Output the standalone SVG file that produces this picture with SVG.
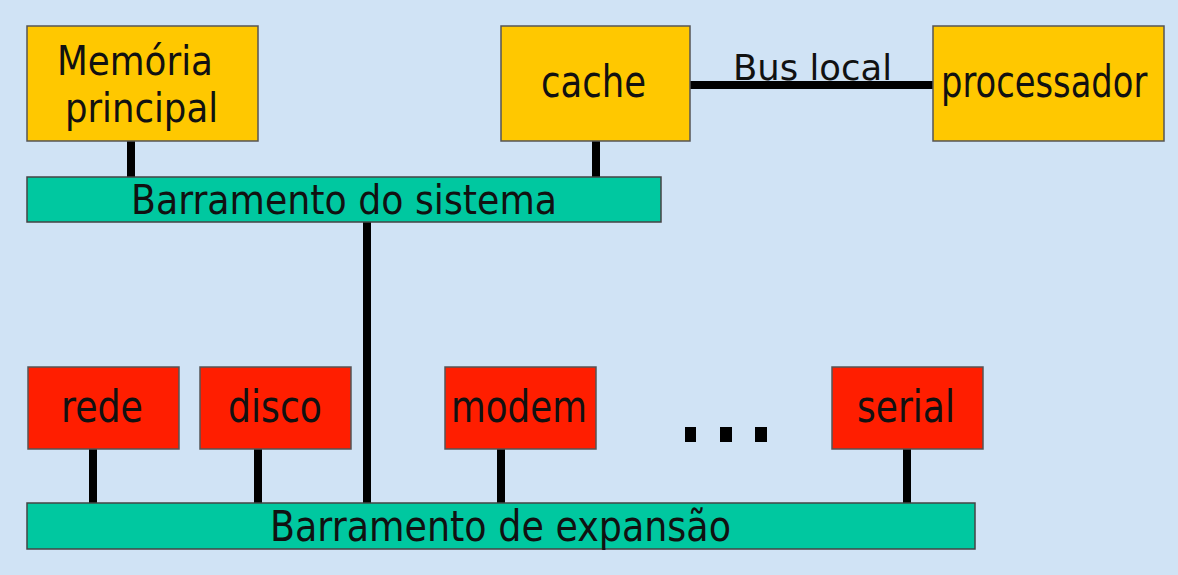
<svg xmlns="http://www.w3.org/2000/svg" width="1178" height="575" viewBox="0 0 1178 575">
<style>
.y{fill:#ffc800;stroke:#555;stroke-width:1.5}
.r{fill:#ff1e00;stroke:#555;stroke-width:1.5}
.b{fill:#00c8a0;stroke:#444;stroke-width:1.5}
text{font-family:"DejaVu Sans","Liberation Sans",sans-serif;font-size:40px;fill:#111}
.big{font-size:45px}
.w{stroke:#000;stroke-width:8;fill:none}
</style>
<rect width="1178" height="575" fill="#d0e3f5"/>
<g id="connectors">
<line class="w" x1="131" y1="141" x2="131" y2="177"/>
<line class="w" x1="596" y1="141" x2="596" y2="177"/>
<line class="w" x1="690" y1="85" x2="933" y2="85"/>
<line class="w" x1="367" y1="222" x2="367" y2="503"/>
<line class="w" x1="93" y1="449" x2="93" y2="503"/>
<line class="w" x1="258" y1="449" x2="258" y2="503"/>
<line class="w" x1="501" y1="449" x2="501" y2="503"/>
<line class="w" x1="907" y1="449" x2="907" y2="503"/>
</g>
<g id="bus-local-label"><text x="733" y="80" textLength="159" lengthAdjust="spacingAndGlyphs" style="font-size:36px">Bus local</text></g>
<g id="memoria"><rect class="y" x="27" y="26" width="231" height="115"/>
<text x="57" y="75" textLength="156" lengthAdjust="spacingAndGlyphs">Memória</text>
<text x="65" y="122" textLength="153" lengthAdjust="spacingAndGlyphs">principal</text></g>
<g id="cache"><rect class="y" x="501" y="26" width="189" height="115"/>
<text class="big" x="541" y="97" textLength="105" lengthAdjust="spacingAndGlyphs">cache</text></g>
<g id="processador"><rect class="y" x="933" y="26" width="231" height="115"/>
<text class="big" transform="translate(941,97) scale(0.75,1)" x="0" y="0">processador</text></g>
<g id="barramento-sistema"><rect class="b" x="27" y="177" width="634" height="45"/>
<text x="131" y="214" textLength="426" lengthAdjust="spacingAndGlyphs">Barramento do sistema</text></g>
<g id="rede"><rect class="r" x="28" y="367" width="151" height="82"/>
<text class="big" x="61" y="422" textLength="82" lengthAdjust="spacingAndGlyphs">rede</text></g>
<g id="disco"><rect class="r" x="200" y="367" width="151" height="82"/>
<text class="big" x="228" y="422" textLength="94" lengthAdjust="spacingAndGlyphs">disco</text></g>
<g id="modem"><rect class="r" x="445" y="367" width="151" height="82"/>
<text class="big" x="451" y="422" textLength="136" lengthAdjust="spacingAndGlyphs">modem</text></g>
<g id="serial"><rect class="r" x="832" y="367" width="151" height="82"/>
<text class="big" x="857" y="422" textLength="98" lengthAdjust="spacingAndGlyphs">serial</text></g>
<g id="ellipsis" fill="#000">
<rect x="685" y="427" width="11" height="15"/>
<rect x="720" y="427" width="12" height="15"/>
<rect x="755" y="427" width="12" height="15"/>
</g>
<g id="barramento-expansao"><rect class="b" x="27" y="503" width="948" height="46"/>
<text style="font-size:43px" x="270" y="541" textLength="461" lengthAdjust="spacingAndGlyphs">Barramento de expansão</text></g>
</svg>
